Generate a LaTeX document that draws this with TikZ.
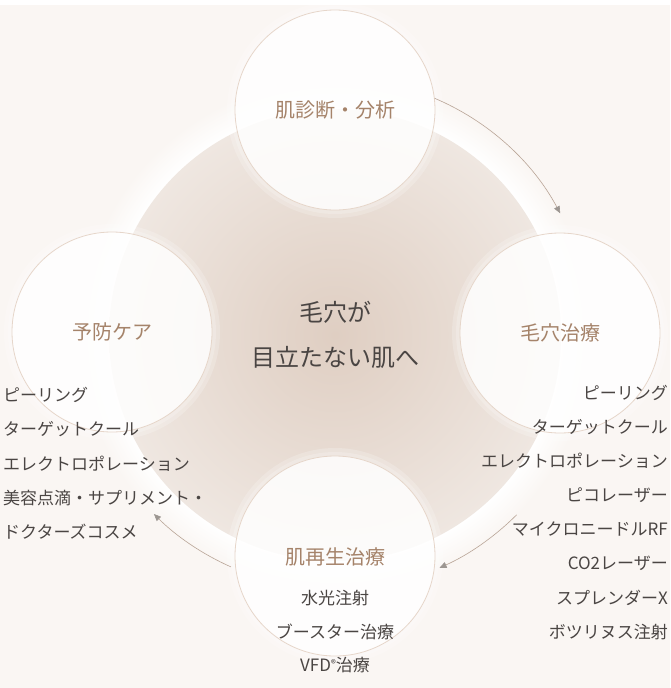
\documentclass[tikz,border=0pt]{standalone}
\usepackage{fontspec}
\setmainfont{Noto Sans CJK JP}
\usetikzlibrary{arrows.meta}
\definecolor{bg}{HTML}{FAF6F3}
\definecolor{discin}{HTML}{DFCEC2}
\definecolor{discout}{HTML}{EFE7E1}
\definecolor{rim}{HTML}{E6D6CA}
\definecolor{lab}{HTML}{A5836A}
\definecolor{txt}{HTML}{4A4543}
\definecolor{arrline}{HTML}{B9A597}
\definecolor{arrhead}{HTML}{9C9691}
\pgfdeclareradialshading{discglow}{\pgfpoint{0bp}{0bp}}{color(0bp)=(white); color(22bp)=(white); color(25bp)=(bg); color(50bp)=(bg)}
\pgfdeclareradialshading{discfill}{\pgfpoint{0bp}{0bp}}{color(0bp)=(discin); color(25bp)=(discout); color(50bp)=(discout)}
\tikzset{
  bubble/.style={circle, minimum size=200pt, inner sep=0pt, fill=white, fill opacity=0.78,
    draw=rim, line width=0.8pt, text opacity=1, text=lab, font=\fontsize{20}{24}\selectfont},
  halo/.style={fill=white, fill opacity=0.2},
  item/.style={inner sep=0pt, text=txt, font=\fontsize{17}{20}\selectfont},
  midtext/.style={inner sep=0pt, text=txt, align=center, font=\fontsize{24}{45}\selectfont},
  conn/.style={draw=arrline, line width=0.6pt, -{Triangle[length=7pt,width=6pt,color=arrhead]}}
}
\begin{document}
\begin{tikzpicture}[x=1pt,y=1pt]
\useasboundingbox (0,0) rectangle (670,-688);
\fill[bg] (0,-5) rectangle (670,-688);
\fill[white] (0,0) rectangle (670,-5);
\coordinate (ctr) at (335,-335);
\coordinate (ring) at (335,-333);
\shade[shading=discglow] (ctr) circle[radius=256];
\shade[shading=discfill] (ctr) circle[radius=226];
% halos
\foreach \p in {(335,-110),(112,-332),(560,-333),(335,-556)}{
  \fill[halo] \p circle[radius=108];
  \fill[halo] \p circle[radius=104];
}
\node[bubble] (top) at (335,-110) {肌診断・分析};
\node[bubble] (left) at (112,-332) {予防ケア};
\node[bubble] (right) at (560,-333) {毛穴治療};
\node[bubble] (bottom) at (335,-556) {};
\node[inner sep=0pt, text=lab, font=\fontsize{20}{24}\selectfont] (bottomlab) at (335,-557) {肌再生治療};
\node[midtext] (mid) at (335,-335) {毛穴が\\目立たない肌へ};
% lists
\foreach \t [count=\i] in {ピーリング,ターゲットクール,エレクトロポレーション,美容点滴・サプリメント・,ドクターズコスメ}{
  \node[item, anchor=west] (L\i) at (3,{-395-34.25*(\i-1)}) {\t};
}
\foreach \t [count=\i] in {ピーリング,ターゲットクール,エレクトロポレーション,ピコレーザー,マイクロニードルRF,CO2レーザー,スプレンダーX,ボツリヌス注射}{
  \node[item, anchor=east] (R\i) at (668,{-393-34.1*(\i-1)}) {\t};
}
\node[item] (B1) at (335,-598) {水光注射};
\node[item] (B2) at (335,-632) {ブースター治療};
\node[item] (B3) at (335,-665) {VFD{\fontsize{10}{10}\selectfont\raisebox{0.7ex}{®}}治療};
% arrows
\coordinate (a1s) at ([shift={(67:255)}]ring);
\coordinate (a2s) at ([shift={(-45:257)}]ring);
\coordinate (a3s) at ([shift={(-114:256)}]ring);
\draw[conn] (a1s) arc[start angle=67, end angle=28, radius=255];
\draw[conn] (a2s) arc[start angle=-45, end angle=-66, radius=257];
\draw[conn] (a3s) arc[start angle=-114, end angle=-135, radius=256];
\end{tikzpicture}
\end{document}
